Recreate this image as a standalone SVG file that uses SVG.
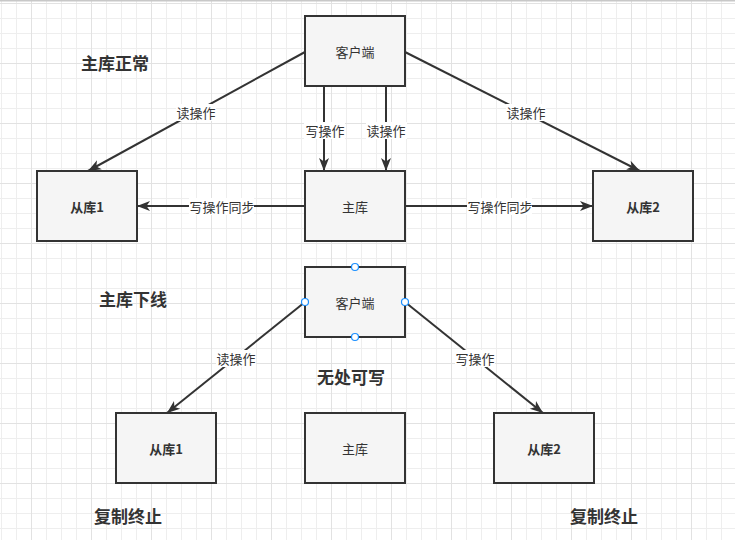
<svg xmlns="http://www.w3.org/2000/svg" width="735" height="540" viewBox="0 0 735 540">
<style>
.node rect{fill:#f5f5f5;stroke:#333;stroke-width:2}
.lbl{font-family:"Noto Sans CJK SC","Liberation Sans",sans-serif;font-size:13px;fill:#333;text-anchor:middle;dominant-baseline:central}
.b{font-weight:bold}
.title{font-family:"Noto Sans CJK SC","Liberation Sans",sans-serif;font-size:17px;font-weight:bold;fill:#333;text-anchor:middle;dominant-baseline:central}
.edge{stroke:#333;stroke-width:2;fill:none;marker-end:url(#arr)}
.lb{fill:#fff}
.pt{fill:#fff;stroke:#1a8fff;stroke-width:1.2}
</style>
<defs>
<pattern id="minor" x="1" y="3" width="15" height="15" patternUnits="userSpaceOnUse">
<path d="M0.5 0V15M0 0.5H15" stroke="#eeeeee" stroke-width="1" fill="none"/>
</pattern>
<pattern id="major" x="31" y="3" width="60" height="60" patternUnits="userSpaceOnUse">
<path d="M0.5 0V60M0 0.5H60" stroke="#e2e2e2" stroke-width="1" fill="none"/>
</pattern>
<marker id="arr" markerUnits="userSpaceOnUse" markerWidth="14" markerHeight="11" refX="13" refY="5" orient="auto" overflow="visible">
<path d="M0,0 L13,5 L0,10 L3.5,5 Z" fill="#333"/>
</marker>
</defs>
<rect width="735" height="540" fill="#fff"/>
<rect width="735" height="540" fill="url(#minor)"/>
<rect width="735" height="540" fill="url(#major)"/>
<rect width="735" height="1.5" fill="#c8c8c8"/>

<g id="connectors">
<line class="edge" x1="305" y1="52" x2="88" y2="171"/>
<line class="edge" x1="405" y1="52" x2="640" y2="171"/>
<line class="edge" x1="324" y1="86" x2="324" y2="171"/>
<line class="edge" x1="386" y1="86" x2="386" y2="171"/>
<line class="edge" x1="305" y1="206" x2="137" y2="206"/>
<line class="edge" x1="405" y1="206" x2="593" y2="206"/>
<line class="edge" x1="305" y1="302" x2="167" y2="413"/>
<line class="edge" x1="405" y1="302" x2="543" y2="413"/>
<rect class="lb" x="176" y="104" width="40" height="17"/>
<text class="lbl" x="196" y="112">读操作</text>
<rect class="lb" x="506" y="104" width="40" height="17"/>
<text class="lbl" x="526" y="112">读操作</text>
<rect class="lb" x="304" y="122" width="41" height="17"/>
<text class="lbl" x="325" y="130">写操作</text>
<rect class="lb" x="366" y="122" width="41" height="17"/>
<text class="lbl" x="386" y="130">读操作</text>
<rect class="lb" x="189" y="198" width="65" height="17"/>
<text class="lbl" x="222" y="206">写操作同步</text>
<rect class="lb" x="467" y="198" width="65" height="17"/>
<text class="lbl" x="500" y="206">写操作同步</text>
<rect class="lb" x="216" y="350" width="40" height="17"/>
<text class="lbl" x="236" y="358">读操作</text>
<rect class="lb" x="455" y="350" width="40" height="17"/>
<text class="lbl" x="475" y="358">写操作</text>
</g>

<g id="client-top" class="node"><rect x="305" y="16" width="100" height="70"/><text class="lbl" x="355" y="51">客户端</text></g>
<g id="slave1-top" class="node"><rect x="37" y="171" width="100" height="70"/><text class="lbl b" x="87" y="206">从库1</text></g>
<g id="master-top" class="node"><rect x="305" y="171" width="100" height="70"/><text class="lbl" x="355" y="206">主库</text></g>
<g id="slave2-top" class="node"><rect x="593" y="171" width="100" height="70"/><text class="lbl b" x="643" y="206">从库2</text></g>

<g id="client-bottom" class="node"><rect x="305" y="267" width="100" height="70"/><text class="lbl" x="355" y="302">客户端</text>
<circle class="pt" cx="355" cy="267" r="3.5"/><circle class="pt" cx="305" cy="302" r="3.5"/><circle class="pt" cx="405" cy="302" r="3.5"/><circle class="pt" cx="355" cy="337" r="3.5"/></g>
<g id="slave1-bottom" class="node"><rect x="116" y="413" width="100" height="70"/><text class="lbl b" x="166" y="448">从库1</text></g>
<g id="master-bottom" class="node"><rect x="305" y="413" width="100" height="70"/><text class="lbl" x="355" y="448">主库</text></g>
<g id="slave2-bottom" class="node"><rect x="494" y="413" width="100" height="70"/><text class="lbl b" x="544" y="448">从库2</text></g>

<g id="titles">
<text class="title" x="115" y="62">主库正常</text>
<text class="title" x="133" y="298">主库下线</text>
<text class="title" x="351" y="376">无处可写</text>
<text class="title" x="128" y="515">复制终止</text>
<text class="title" x="604" y="515">复制终止</text>
</g>
</svg>
